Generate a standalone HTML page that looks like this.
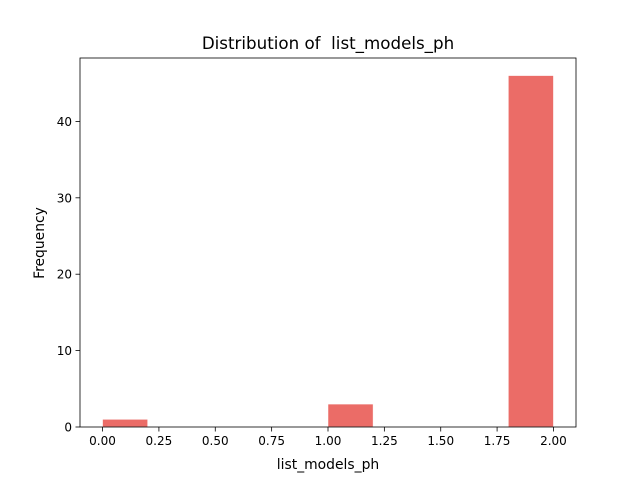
<!DOCTYPE html>
<html><head><meta charset="utf-8"><style>body{margin:0;background:#fff}svg{display:block}text{font-family:"DejaVu Sans","Liberation Sans",sans-serif;fill:#000;white-space:pre}</style></head>
<body>
<svg id="chart" width="640" height="480" xmlns="http://www.w3.org/2000/svg">
<text x="328" y="49" font-size="16.7" text-anchor="middle" xml:space="preserve">Distribution of  list_models_ph</text>
<g id="bars"></g>
<rect x="80" y="58" width="496" height="369" fill="none" stroke="#000" stroke-width="0.8"/>
<g id="xt"></g><g id="yt"></g>
<text x="328" y="469" font-size="13.9" text-anchor="middle">list_models_ph</text>
<text transform="translate(44,243) rotate(-90)" font-size="13.9" text-anchor="middle">Frequency</text>
</svg>
<script>
const binEdges=[0,0.2,0.4,0.6,0.8,1.0,1.2,1.4,1.6,1.8,2.0];
const counts=[1,0,0,0,0,3,0,0,0,46];
const xTicks=[0,0.25,0.5,0.75,1.0,1.25,1.5,1.75,2.0];
const xTickLabels=["0.00","0.25","0.50","0.75","1.00","1.25","1.50","1.75","2.00"];
const yTicks=[0,10,20,30,40];
const NS="http://www.w3.org/2000/svg";
const X=v=>80+(v+0.1)/2.2*496;
const Y=v=>427-v*(369/48.3);
function mk(t,a,p){const e=document.createElementNS(NS,t);for(const k in a)e.setAttribute(k,a[k]);p.appendChild(e);return e;}
const bars=document.getElementById('bars');
counts.forEach((c,i)=>{
 const r=mk('rect',{x:X(binEdges[i]),y:Y(c),width:X(binEdges[i+1])-X(binEdges[i]),height:Y(0)-Y(c),fill:'#eb6c67',stroke:'#fff','stroke-width':0.5},bars);
 
 
});
const xt=document.getElementById('xt');
xTicks.forEach((v,i)=>{
 const l=mk('line',{x1:X(v),x2:X(v),y1:427,y2:431.5,stroke:'#000','stroke-width':0.8},xt);
 
 
 const t=mk('text',{x:X(v),y:445,'font-size':12,'text-anchor':'middle'},xt);
 t.textContent=xTickLabels[i];
 
 
});
const yt=document.getElementById('yt');
yTicks.forEach(v=>{
 const l=mk('line',{x1:75.5,x2:80,y1:Y(v),y2:Y(v),stroke:'#000','stroke-width':0.8},yt);
 
 
 const t=mk('text',{x:72,y:Y(v)+4.5,'font-size':12,'text-anchor':'end'},yt);
 t.textContent=v;
 
 
});
</script>
</body></html>
